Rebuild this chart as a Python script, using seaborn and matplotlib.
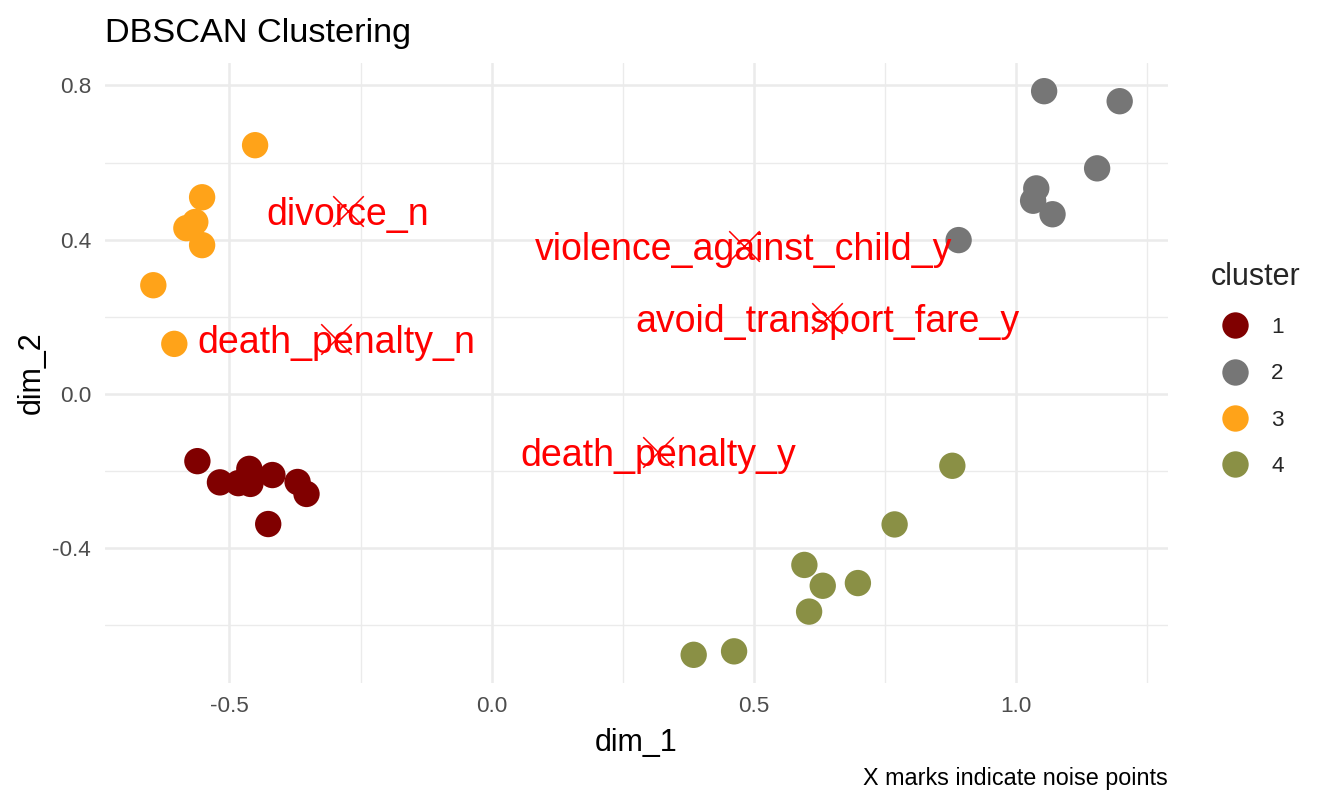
import numpy as np
import pandas as pd
import matplotlib
matplotlib.use("Agg")
import matplotlib.pyplot as plt
import seaborn as sns

# Cluster points
dim_1 = [-0.451, -0.552, -0.565, -0.582, -0.552, -0.645, -0.605,
         1.053, 1.197, 1.154, 1.038, 1.032, 1.069, 0.890,
         -0.561, -0.518, -0.483, -0.462, -0.460, -0.418, -0.370, -0.353, -0.426,
         0.878, 0.768, 0.596, 0.631, 0.698, 0.605, 0.385, 0.462]
dim_2 = [0.645, 0.510, 0.446, 0.430, 0.386, 0.282, 0.130,
         0.785, 0.759, 0.585, 0.533, 0.501, 0.466, 0.399,
         -0.174, -0.229, -0.231, -0.194, -0.233, -0.210, -0.228, -0.259, -0.337,
         -0.186, -0.338, -0.443, -0.497, -0.490, -0.564, -0.676, -0.667]
cluster = ["3"] * 7 + ["2"] * 7 + ["1"] * 9 + ["4"] * 8

# Noise points
noise_labels = ["divorce_n", "death_penalty_n", "violence_against_child_y",
                "avoid_transport_fare_y", "death_penalty_y"]
noise_x = [-0.274, -0.297, 0.480, 0.639, 0.317]
noise_y = [0.475, 0.142, 0.384, 0.196, -0.149]

cluster_order = ["1", "2", "3", "4"]
cluster_colors = ["#800000", "#767676", "#FFA319", "#8A9045"]

df = pd.DataFrame({"dim_1": dim_1, "dim_2": dim_2, "cluster": cluster})

sns.set_theme(style="white")
plt.rcParams["font.family"] = ["Liberation Sans", "DejaVu Sans"]
plt.rcParams["axes.unicode_minus"] = False

fig = plt.figure(figsize=(13.28, 8.06), dpi=100)
ax = fig.add_axes([105 / 1328, 1 - 683 / 806, (1168 - 105) / 1328, (683 - 63) / 806])

sns.scatterplot(data=df, x="dim_1", y="dim_2", hue="cluster", hue_order=cluster_order,
                palette=cluster_colors, s=360, linewidth=0, ax=ax, zorder=3)

# noise marks + their labels
ax.scatter(noise_x, noise_y, marker="x", s=22 ** 2, color="red", linewidths=1.1, zorder=4)
for lab, nx, ny in zip(noise_labels, noise_x, noise_y):
    ax.text(nx, ny, lab, ha="center", va="center_baseline", fontsize=27, color="red", zorder=5)

# ggplot-like 5% expansion
all_x = np.array(dim_1 + noise_x)
all_y = np.array(dim_2 + noise_y)
xr = all_x.max() - all_x.min()
yr = all_y.max() - all_y.min()
ax.set_xlim(all_x.min() - 0.05 * xr, all_x.max() + 0.05 * xr)
ax.set_ylim(all_y.min() - 0.05 * yr, all_y.max() + 0.05 * yr)

ax.set_xticks([-0.5, 0.0, 0.5, 1.0])
ax.set_xticklabels(["-0.5", "0.0", "0.5", "1.0"])
ax.set_xticks([-0.25, 0.25, 0.75, 1.25], minor=True)
ax.set_yticks([-0.4, 0.0, 0.4, 0.8])
ax.set_yticklabels(["-0.4", "0.0", "0.4", "0.8"])
ax.set_yticks([-0.6, -0.2, 0.2, 0.6], minor=True)

ax.grid(which="major", color="#EBEBEB", linewidth=1.8)
ax.grid(which="minor", color="#EBEBEB", linewidth=1.0)
ax.set_axisbelow(True)
for sp in ax.spines.values():
    sp.set_visible(False)
ax.tick_params(which="both", length=0, labelsize=16.2, labelcolor="#4D4D4D")
ax.tick_params(axis="x", pad=9)
ax.tick_params(axis="y", pad=10)

ax.set_xlabel("dim_1", fontsize=22, color="black", labelpad=8)
ax.set_ylabel("dim_2", fontsize=22, color="black", labelpad=4)
ax.set_title("DBSCAN Clustering", loc="left", fontsize=24.7, color="black", pad=15)

# legend on the right
handles, labels = ax.get_legend_handles_labels()
leg = ax.legend(handles, labels, title="cluster", loc="upper left",
                bbox_to_anchor=(1202 / 1328, 1 - 253 / 806), bbox_transform=fig.transFigure,
                borderaxespad=0, frameon=False, fontsize=16.2, title_fontsize=22,
                handlelength=2.13, handletextpad=0.55, labelspacing=1.12, alignment="left")
for h in leg.legend_handles:
    if hasattr(h, "set_sizes"):
        h.set_sizes([360])
    if hasattr(h, "set_markersize"):
        h.set_markersize(19)

fig.text(1168 / 1328, 1 - 778 / 806, "X marks indicate noise points",
         ha="right", va="center", fontsize=16.8, color="black")

plt.savefig("out.png", dpi=100)
